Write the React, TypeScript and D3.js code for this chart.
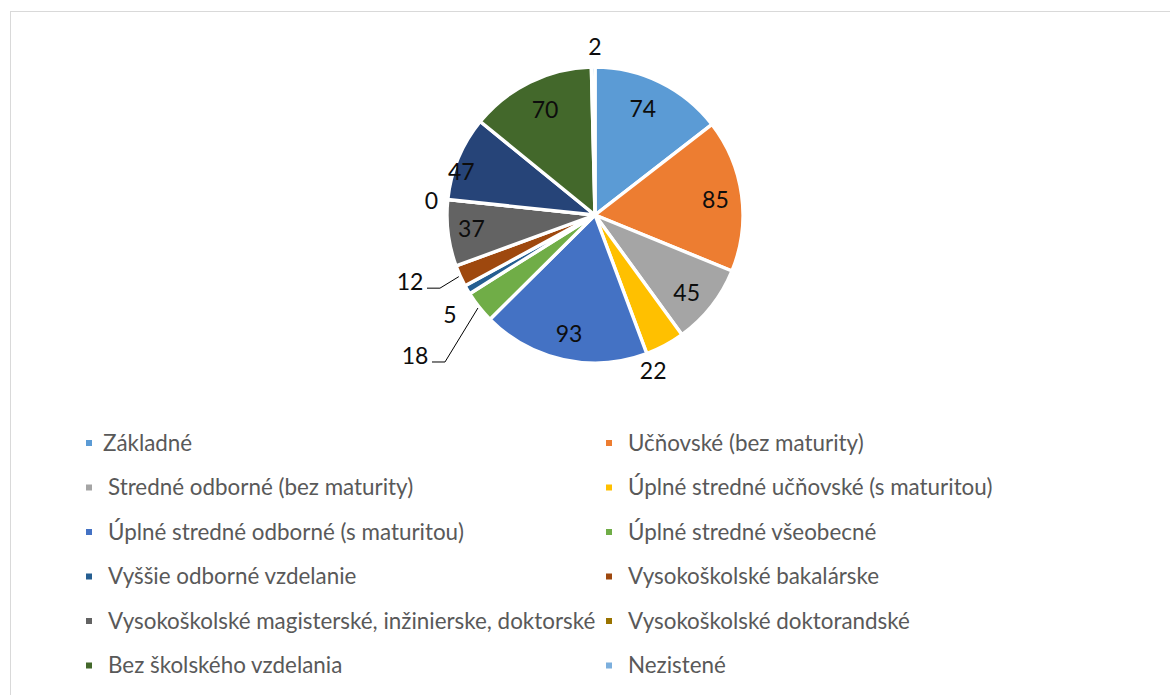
import React from "react";
import * as d3 from "d3";

const categories = [
  "Základné",
  "Učňovské (bez maturity)",
  "Stredné odborné (bez maturity)",
  "Úplné stredné učňovské (s maturitou)",
  "Úplné stredné odborné (s maturitou)",
  "Úplné stredné všeobecné",
  "Vyššie odborné vzdelanie",
  "Vysokoškolské bakalárske",
  "Vysokoškolské magisterské, inžinierske, doktorské",
  "Vysokoškolské doktorandské",
  "",
  "Bez školského vzdelania",
  "Nezistené",
];
const values = [74, 85, 45, 22, 93, 18, 5, 12, 37, 0, 47, 70, 2];
const colors = [
  "#5B9BD5", "#ED7D31", "#A5A5A5", "#FFC000", "#4472C4", "#70AD47",
  "#255E91", "#9E480E", "#636363", "#997300", "#264478", "#43682B", "#7CAFDD",
];

// label placement: radius factor and angle offset (deg) relative to slice mid-angle
const labelLayout: { r: number; da: number; leader?: boolean }[] = [
  { r: 0.79, da: -2 },
  { r: 0.82, da: 0.7 },
  { r: 0.81, da: 2 },
  { r: 1.12, da: 7.7 },
  { r: 0.82, da: 0 },
  { r: 1.545, da: 0.4, leader: true },
  { r: 1.19, da: -4.2 },
  { r: 1.33, da: 4.4, leader: true },
  { r: 0.84, da: 0.7 },
  { r: 1.11, da: -1 },
  { r: 0.95, da: -4.6 },
  { r: 0.79, da: 0.8 },
  { r: 1.135, da: 0.7 },
];

const W = 1170;
const H = 695;
const cx = 595;
const cy = 215;
const R = 148;

export default function App() {
  const pie = d3.pie<number>().sort(null).value((d) => d);
  const arcs = pie(values);
  const arcGen = d3.arc<d3.PieArcDatum<number>>().innerRadius(0).outerRadius(R);

  const polar = (angle: number, rad: number): [number, number] => [
    cx + rad * Math.sin(angle),
    cy - rad * Math.cos(angle),
  ];

  const legendItems = categories
    .map((name, i) => ({ name, color: colors[i] }))
    .filter((d) => d.name !== "");

  const rowY = (k: number) => 443 + 44.5 * k;

  return (
    <svg
      width={W}
      height={H}
      style={{ position: "absolute", left: 0, top: 0, background: "#fff" }}
      fontFamily="Lato, 'Open Sans', sans-serif"
    >
      <rect x={10.5} y={11.5} width={W + 10} height={H + 10} fill="#fff" stroke="#d9d9d9" strokeWidth={1} />
      <g transform={`translate(${cx},${cy})`}>
        {arcs.map((a, i) => (
          <path key={i} d={arcGen(a) || ""} fill={colors[i]} stroke="#fff" strokeWidth={3.4} strokeLinejoin="round" />
        ))}
      </g>
      {arcs.map((a, i) => {
        const lay = labelLayout[i];
        const mid = (a.startAngle + a.endAngle) / 2;
        const ang = mid + (lay.da * Math.PI) / 180;
        const [lx, ly] = polar(ang, lay.r * R);
        let leader = null;
        if (lay.leader) {
          const [sx, sy] = polar(mid, R * 1.01);
          const ey = ly + 6;
          leader = (
            <polyline
              points={`${sx},${sy} ${lx + 30},${ey} ${lx + 17},${ey}`}
              fill="none"
              stroke="#000"
              strokeWidth={1}
            />
          );
        }
        return (
          <g key={i}>
            {leader}
            <text x={lx} y={ly} dy="0.36em" textAnchor="middle" fontSize={23} fill="#0d0d0d">
              {values[i]}
            </text>
          </g>
        );
      })}
      {legendItems.map((d, k) => {
        const col = k % 2;
        const row = Math.floor(k / 2);
        const mx = col === 0 ? 86 : 606;
        const tx = col === 0 ? (k === 0 ? 103 : 108) : 628;
        const y = rowY(row);
        return (
          <g key={k}>
            <rect x={mx} y={y - 3} width={6} height={6} fill={d.color} />
            <text x={tx} y={y} dy="0.35em" fontSize={22.4} fill="#595959">
              {d.name}
            </text>
          </g>
        );
      })}
    </svg>
  );
}
